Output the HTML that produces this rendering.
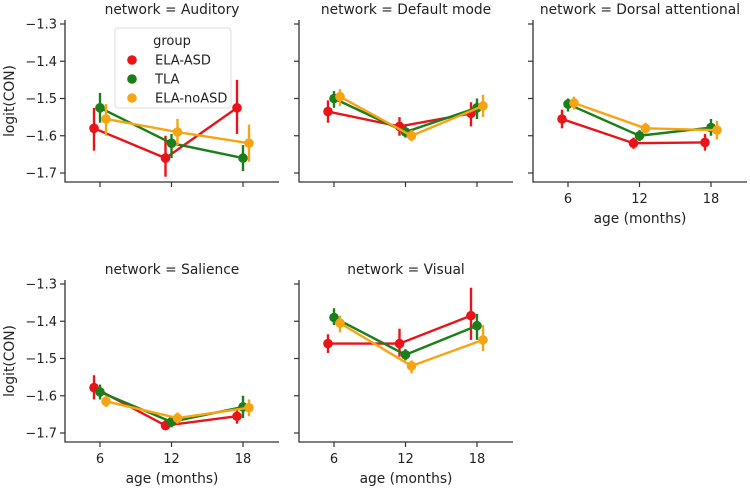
<!DOCTYPE html>
<html><head><meta charset="utf-8">
<style>
html,body{margin:0;padding:0;background:#fff;}
svg{display:block;font-family:"DejaVu Sans","Liberation Sans",sans-serif;}
</style></head>
<body>
<svg id="chart" width="750" height="491" viewBox="0 0 750 491"></svg>
<script>
const networks = ["Auditory","Default mode","Dorsal attentional","Salience","Visual"];
const groups = ["ELA-ASD","TLA","ELA-noASD"];
const colors = ["#e8141a","#1a7f1a","#f7a414"];
const ages = [6,12,18];
const yTicks = [-1.3,-1.4,-1.5,-1.6,-1.7];
const yTickLabels = ["\u22121.3","\u22121.4","\u22121.5","\u22121.6","\u22121.7"];
// means[network][group][age]
const means = [
 [[-1.58,-1.66,-1.525],[-1.525,-1.62,-1.66],[-1.555,-1.59,-1.62]],
 [[-1.535,-1.575,-1.54],[-1.50,-1.59,-1.525],[-1.495,-1.60,-1.52]],
 [[-1.555,-1.62,-1.618],[-1.515,-1.60,-1.578],[-1.512,-1.58,-1.585]],
 [[-1.578,-1.68,-1.655],[-1.59,-1.67,-1.63],[-1.615,-1.66,-1.632]],
 [[-1.46,-1.46,-1.385],[-1.39,-1.49,-1.412],[-1.405,-1.52,-1.45]]
];
const lows = [
 [[-1.64,-1.71,-1.595],[-1.565,-1.66,-1.695],[-1.60,-1.625,-1.67]],
 [[-1.565,-1.60,-1.575],[-1.525,-1.605,-1.555],[-1.52,-1.615,-1.55]],
 [[-1.58,-1.635,-1.64],[-1.535,-1.615,-1.60],[-1.53,-1.595,-1.61]],
 [[-1.61,-1.69,-1.675],[-1.61,-1.685,-1.66],[-1.63,-1.675,-1.655]],
 [[-1.485,-1.495,-1.45],[-1.41,-1.505,-1.45],[-1.43,-1.54,-1.48]]
];
const highs = [
 [[-1.525,-1.60,-1.45],[-1.485,-1.595,-1.625],[-1.515,-1.555,-1.57]],
 [[-1.505,-1.55,-1.51],[-1.48,-1.575,-1.50],[-1.475,-1.585,-1.49]],
 [[-1.53,-1.605,-1.595],[-1.50,-1.585,-1.555],[-1.495,-1.565,-1.56]],
 [[-1.545,-1.665,-1.635],[-1.57,-1.655,-1.60],[-1.60,-1.645,-1.61]],
 [[-1.435,-1.42,-1.31],[-1.365,-1.475,-1.38],[-1.385,-1.505,-1.41]]
];

const NS="http://www.w3.org/2000/svg";
const svg=document.getElementById('chart');
function mk(tag,attrs,parent){const e=document.createElementNS(NS,tag);for(const k in attrs)e.setAttribute(k,attrs[k]);(parent||svg).appendChild(e);return e;}

const colLeft=[65,299,533], rowTop=[24,284];
const axW=214, pxPer=372.5;
const dodge=[-6,0,6];
networks.forEach((net,ni)=>{
  const col=ni%3,row=Math.floor(ni/3);
  const L=colLeft[col],T=rowTop[row],B=T+158;
  const yS=v=>T+(-1.3-v)*pxPer;
  const xS=a=>L+35+(a-6)/6*71.5;
  const g=mk('g',{});
  
  
  const t=mk('text',{x:L+107,y:T-10,'text-anchor':'middle','font-size':13.8,fill:'#222'},g);
  t.textContent='network = '+net;
  
  
  const ax=mk('path',{d:`M${L} ${T-4}V${B}H${L+axW}`,fill:'none',stroke:'#333','stroke-width':1.3},g);
  
  
  yTicks.forEach((v,i)=>{
    mk('line',{x1:L-5,x2:L,y1:yS(v),y2:yS(v),stroke:'#333','stroke-width':1.2},g);
    if(col===0){const tl=mk('text',{x:L-8,y:yS(v)+4.5,'text-anchor':'end','font-size':13,fill:'#222'},g);tl.textContent=yTickLabels[i];
      
      }
  });
  const showX = row===1 || col===2;
  ages.forEach(a=>{
    mk('line',{x1:xS(a),x2:xS(a),y1:B,y2:B+5,stroke:'#333','stroke-width':1.2},g);
    if(showX){const tl=mk('text',{x:xS(a),y:B+21,'text-anchor':'middle','font-size':13,fill:'#222'},g);tl.textContent=a;
      
      }
  });
  if(showX){const xl=mk('text',{x:L+107,y:B+41,'text-anchor':'middle','font-size':13.8,fill:'#222'},g);xl.textContent='age (months)';
    
    }
  if(col===0){const yl=mk('text',{x:0,y:0,'text-anchor':'middle','font-size':13.8,fill:'#222',transform:`translate(14,${(T+B)/2-2}) rotate(-90)`},g);yl.textContent='logit(CON)';
    
    }
  groups.forEach((gr,gi)=>{
    const m=means[ni][gi];
    const pts=ages.map((a,ai)=>`${xS(a)+dodge[gi]},${yS(m[ai])}`).join(' ');
    const pl=mk('polyline',{points:pts,fill:'none',stroke:colors[gi],'stroke-width':2.4},g);
    
    
    ages.forEach((a,ai)=>{
      const x=xS(a)+dodge[gi];
      const eb=mk('line',{x1:x,x2:x,y1:yS(lows[ni][gi][ai]),y2:yS(highs[ni][gi][ai]),stroke:colors[gi],'stroke-width':2.4},g);
      
      
      const c=mk('circle',{cx:x,cy:yS(m[ai]),r:4.8,fill:colors[gi]},g);
      
      
    });
  });
});
const lg=mk('g',{});


mk('rect',{x:115,y:28,width:116,height:80,rx:3,fill:'#fff','fill-opacity':0.85,stroke:'#ddd'},lg);
const lt=mk('text',{x:172,y:45,'text-anchor':'middle','font-size':13,fill:'#222'},lg);lt.textContent='group';


groups.forEach((gr,gi)=>{
  const y=60+gi*19;
  const e=mk('g',{},lg);
  
  
  mk('circle',{cx:132,cy:y,r:4.8,fill:colors[gi]},e);
  const tx=mk('text',{x:155,y:y+4.5,'font-size':13,fill:'#222'},e);tx.textContent=gr;
});
</script>
</body></html>
